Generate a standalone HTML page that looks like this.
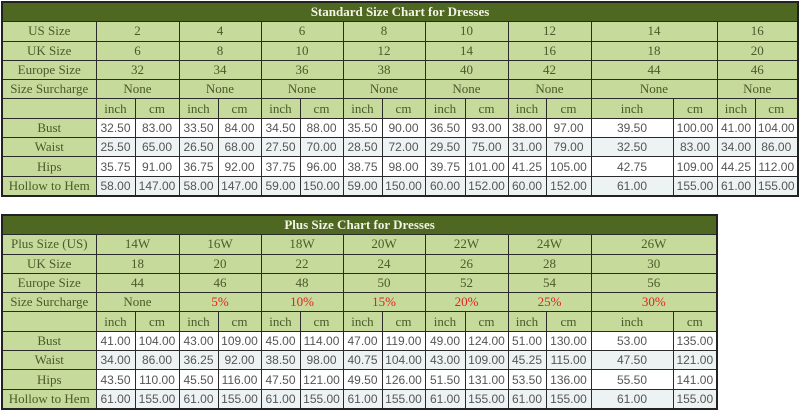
<!DOCTYPE html>
<html><head><meta charset="utf-8"><style>
body{margin:0;width:800px;height:410px;background:#fff;overflow:hidden;position:relative}
table{position:absolute;left:1px;border-collapse:collapse;table-layout:fixed;border:2px solid #222;font-family:"Liberation Serif",serif;font-size:13px;color:#4b5a2a}
td{border:1px solid #2a2a2a;padding:0;text-align:center;height:18.3px;line-height:18px;white-space:nowrap;overflow:hidden}
td.h{background:#4e6822;color:#f3f3e6;font-weight:bold}
tr.g td{background:#c6da9b}
td.d{background:#fff;color:#555;font-family:"Liberation Sans",sans-serif;font-size:12px}
tr.a td.d{background:#edf2f3}
tr.r td.l{background:#c6da9b}
.red{color:#e0241b}
</style></head><body>
<table style="top:1px;width:798px">
<colgroup><col style="width:94px"><col style="width:39px"><col style="width:44px"><col style="width:39px"><col style="width:43px"><col style="width:39px"><col style="width:43px"><col style="width:39px"><col style="width:43px"><col style="width:40px"><col style="width:43px"><col style="width:38px"><col style="width:45px"><col style="width:82px"><col style="width:44px"><col style="width:38px"><col style="width:43px"></colgroup>
<tr><td class="h" colspan="17">Standard Size Chart for Dresses</td></tr>
<tr class="g"><td>US Size</td><td colspan="2">2</td><td colspan="2">4</td><td colspan="2">6</td><td colspan="2">8</td><td colspan="2">10</td><td colspan="2">12</td><td colspan="2">14</td><td colspan="2">16</td></tr>
<tr class="g"><td>UK Size</td><td colspan="2">6</td><td colspan="2">8</td><td colspan="2">10</td><td colspan="2">12</td><td colspan="2">14</td><td colspan="2">16</td><td colspan="2">18</td><td colspan="2">20</td></tr>
<tr class="g"><td>Europe Size</td><td colspan="2">32</td><td colspan="2">34</td><td colspan="2">36</td><td colspan="2">38</td><td colspan="2">40</td><td colspan="2">42</td><td colspan="2">44</td><td colspan="2">46</td></tr>
<tr class="g"><td>Size Surcharge</td><td colspan="2">None</td><td colspan="2">None</td><td colspan="2">None</td><td colspan="2">None</td><td colspan="2">None</td><td colspan="2">None</td><td colspan="2">None</td><td colspan="2">None</td></tr>
<tr class="g"><td></td><td>inch</td><td>cm</td><td>inch</td><td>cm</td><td>inch</td><td>cm</td><td>inch</td><td>cm</td><td>inch</td><td>cm</td><td>inch</td><td>cm</td><td>inch</td><td>cm</td><td>inch</td><td>cm</td></tr>
<tr class="r"><td class="l">Bust</td><td class="d">32.50</td><td class="d">83.00</td><td class="d">33.50</td><td class="d">84.00</td><td class="d">34.50</td><td class="d">88.00</td><td class="d">35.50</td><td class="d">90.00</td><td class="d">36.50</td><td class="d">93.00</td><td class="d">38.00</td><td class="d">97.00</td><td class="d">39.50</td><td class="d">100.00</td><td class="d">41.00</td><td class="d">104.00</td></tr>
<tr class="r a"><td class="l">Waist</td><td class="d">25.50</td><td class="d">65.00</td><td class="d">26.50</td><td class="d">68.00</td><td class="d">27.50</td><td class="d">70.00</td><td class="d">28.50</td><td class="d">72.00</td><td class="d">29.50</td><td class="d">75.00</td><td class="d">31.00</td><td class="d">79.00</td><td class="d">32.50</td><td class="d">83.00</td><td class="d">34.00</td><td class="d">86.00</td></tr>
<tr class="r"><td class="l">Hips</td><td class="d">35.75</td><td class="d">91.00</td><td class="d">36.75</td><td class="d">92.00</td><td class="d">37.75</td><td class="d">96.00</td><td class="d">38.75</td><td class="d">98.00</td><td class="d">39.75</td><td class="d">101.00</td><td class="d">41.25</td><td class="d">105.00</td><td class="d">42.75</td><td class="d">109.00</td><td class="d">44.25</td><td class="d">112.00</td></tr>
<tr class="r a"><td class="l">Hollow to Hem</td><td class="d">58.00</td><td class="d">147.00</td><td class="d">58.00</td><td class="d">147.00</td><td class="d">59.00</td><td class="d">150.00</td><td class="d">59.00</td><td class="d">150.00</td><td class="d">60.00</td><td class="d">152.00</td><td class="d">60.00</td><td class="d">152.00</td><td class="d">61.00</td><td class="d">155.00</td><td class="d">61.00</td><td class="d">155.00</td></tr>
</table>
<table style="top:214px;width:717px">
<colgroup><col style="width:94px"><col style="width:39px"><col style="width:44px"><col style="width:39px"><col style="width:43px"><col style="width:39px"><col style="width:43px"><col style="width:39px"><col style="width:43px"><col style="width:40px"><col style="width:43px"><col style="width:38px"><col style="width:45px"><col style="width:82px"><col style="width:44px"></colgroup>
<tr><td class="h" colspan="15">Plus Size Chart for Dresses</td></tr>
<tr class="g"><td>Plus Size (US)</td><td colspan="2">14W</td><td colspan="2">16W</td><td colspan="2">18W</td><td colspan="2">20W</td><td colspan="2">22W</td><td colspan="2">24W</td><td colspan="2">26W</td></tr>
<tr class="g"><td>UK Size</td><td colspan="2">18</td><td colspan="2">20</td><td colspan="2">22</td><td colspan="2">24</td><td colspan="2">26</td><td colspan="2">28</td><td colspan="2">30</td></tr>
<tr class="g"><td>Europe Size</td><td colspan="2">44</td><td colspan="2">46</td><td colspan="2">48</td><td colspan="2">50</td><td colspan="2">52</td><td colspan="2">54</td><td colspan="2">56</td></tr>
<tr class="g"><td>Size Surcharge</td><td colspan="2">None</td><td colspan="2" class="red">5%</td><td colspan="2" class="red">10%</td><td colspan="2" class="red">15%</td><td colspan="2" class="red">20%</td><td colspan="2" class="red">25%</td><td colspan="2" class="red">30%</td></tr>
<tr class="g"><td></td><td>inch</td><td>cm</td><td>inch</td><td>cm</td><td>inch</td><td>cm</td><td>inch</td><td>cm</td><td>inch</td><td>cm</td><td>inch</td><td>cm</td><td>inch</td><td>cm</td></tr>
<tr class="r"><td class="l">Bust</td><td class="d">41.00</td><td class="d">104.00</td><td class="d">43.00</td><td class="d">109.00</td><td class="d">45.00</td><td class="d">114.00</td><td class="d">47.00</td><td class="d">119.00</td><td class="d">49.00</td><td class="d">124.00</td><td class="d">51.00</td><td class="d">130.00</td><td class="d">53.00</td><td class="d">135.00</td></tr>
<tr class="r a"><td class="l">Waist</td><td class="d">34.00</td><td class="d">86.00</td><td class="d">36.25</td><td class="d">92.00</td><td class="d">38.50</td><td class="d">98.00</td><td class="d">40.75</td><td class="d">104.00</td><td class="d">43.00</td><td class="d">109.00</td><td class="d">45.25</td><td class="d">115.00</td><td class="d">47.50</td><td class="d">121.00</td></tr>
<tr class="r"><td class="l">Hips</td><td class="d">43.50</td><td class="d">110.00</td><td class="d">45.50</td><td class="d">116.00</td><td class="d">47.50</td><td class="d">121.00</td><td class="d">49.50</td><td class="d">126.00</td><td class="d">51.50</td><td class="d">131.00</td><td class="d">53.50</td><td class="d">136.00</td><td class="d">55.50</td><td class="d">141.00</td></tr>
<tr class="r a"><td class="l">Hollow to Hem</td><td class="d">61.00</td><td class="d">155.00</td><td class="d">61.00</td><td class="d">155.00</td><td class="d">61.00</td><td class="d">155.00</td><td class="d">61.00</td><td class="d">155.00</td><td class="d">61.00</td><td class="d">155.00</td><td class="d">61.00</td><td class="d">155.00</td><td class="d">61.00</td><td class="d">155.00</td></tr>
</table>
</body></html>
